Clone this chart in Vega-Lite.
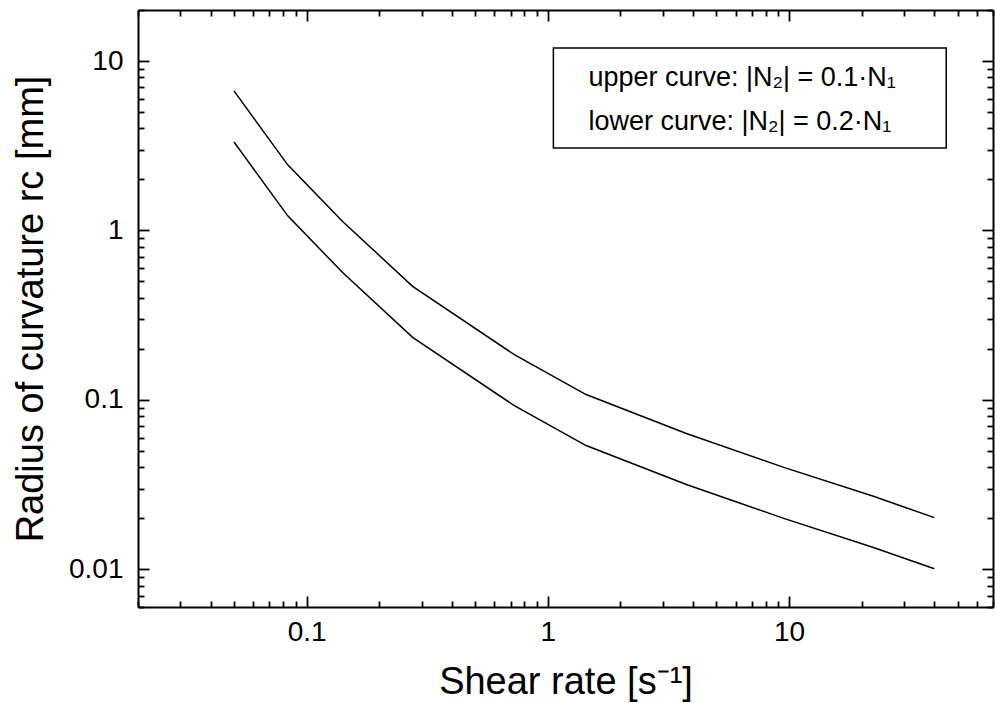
{
  "$schema": "https://vega.github.io/schema/vega-lite/v6.json",
  "width": 855,
  "height": 597,
  "autosize": {"type": "none"},
  "padding": {"left": 138, "top": 10, "right": 2, "bottom": 96},
  "background": "white",
  "config": {
    "font": "Liberation Sans",
    "view": {"stroke": null},
    "axis": {
      "grid": false,
      "domainColor": "black",
      "domainWidth": 2,
      "tickColor": "black",
      "tickWidth": 1.8,
      "labelColor": "black",
      "labelFontSize": 28,
      "labelFont": "Liberation Sans",
      "labelFlush": false,
      "labelOverlap": false,
      "titleColor": "black",
      "titleFont": "Liberation Sans",
      "titleFontSize": 38,
      "titleFontWeight": "normal"
    }
  },
  "datasets": {
    "curves": [
      {"curve": "upper", "shear_rate": 0.05, "radius": 6.66},
      {"curve": "upper", "shear_rate": 0.0835, "radius": 2.44},
      {"curve": "upper", "shear_rate": 0.141, "radius": 1.13},
      {"curve": "upper", "shear_rate": 0.275, "radius": 0.468},
      {"curve": "upper", "shear_rate": 0.726, "radius": 0.185},
      {"curve": "upper", "shear_rate": 1.44, "radius": 0.1076},
      {"curve": "upper", "shear_rate": 3.75, "radius": 0.0634},
      {"curve": "upper", "shear_rate": 9.5, "radius": 0.04},
      {"curve": "upper", "shear_rate": 22.2, "radius": 0.0271},
      {"curve": "upper", "shear_rate": 40, "radius": 0.0202},
      {"curve": "lower", "shear_rate": 0.05, "radius": 3.33},
      {"curve": "lower", "shear_rate": 0.0835, "radius": 1.22},
      {"curve": "lower", "shear_rate": 0.141, "radius": 0.565},
      {"curve": "lower", "shear_rate": 0.275, "radius": 0.234},
      {"curve": "lower", "shear_rate": 0.726, "radius": 0.0925},
      {"curve": "lower", "shear_rate": 1.44, "radius": 0.0538},
      {"curve": "lower", "shear_rate": 3.75, "radius": 0.0317},
      {"curve": "lower", "shear_rate": 9.5, "radius": 0.02},
      {"curve": "lower", "shear_rate": 22.2, "radius": 0.0135},
      {"curve": "lower", "shear_rate": 40, "radius": 0.0101}
    ]
  },
  "layer": [
    {
      "data": {"name": "curves"},
      "mark": {"type": "line", "color": "black", "strokeWidth": 1.5},
      "encoding": {
        "x": {
          "field": "shear_rate",
          "type": "quantitative",
          "scale": {"type": "log", "domain": [0.02, 70], "nice": false},
          "axis": {
            "orient": "bottom",
            "title": "Shear rate [s⁻¹]",
            "values": [0.02, 0.03, 0.04, 0.05, 0.06, 0.07, 0.08, 0.09, 0.1, 0.2, 0.3, 0.4, 0.5, 0.6, 0.7, 0.8, 0.9, 1, 2, 3, 4, 5, 6, 7, 8, 9, 10, 20, 30, 40, 50, 60, 70],
            "labelExpr": "(datum.value == 0.1 || datum.value == 1 || datum.value == 10) ? format(datum.value, '~g') : ''",
            "tickSize": {"condition": {"test": "datum.value == 0.1 || datum.value == 1 || datum.value == 10", "value": -11}, "value": -6},
            "labelPadding": 22,
            "titlePadding": 12
          }
        },
        "y": {
          "field": "radius",
          "type": "quantitative",
          "scale": {"type": "log", "domain": [0.006, 20], "nice": false},
          "axis": {
            "orient": "left",
            "title": "Radius of curvature rc [mm]",
            "values": [0.006, 0.007, 0.008, 0.009, 0.01, 0.02, 0.03, 0.04, 0.05, 0.06, 0.07, 0.08, 0.09, 0.1, 0.2, 0.3, 0.4, 0.5, 0.6, 0.7, 0.8, 0.9, 1, 2, 3, 4, 5, 6, 7, 8, 9, 10, 20],
            "labelExpr": "(datum.value == 0.01 || datum.value == 0.1 || datum.value == 1 || datum.value == 10) ? format(datum.value, '~g') : ''",
            "tickSize": {"condition": {"test": "datum.value == 0.01 || datum.value == 0.1 || datum.value == 1 || datum.value == 10", "value": -11}, "value": -6},
            "labelPadding": 26,
            "titlePadding": 18
          }
        },
        "detail": {"field": "curve"}
      }
    },
    {
      "data": {"values": [{}]},
      "mark": {"type": "rect", "fill": "white", "stroke": "black", "strokeWidth": 1.5},
      "encoding": {
        "x": {
          "datum": 1.054,
          "type": "quantitative",
          "axis": {
            "orient": "top",
            "title": null,
            "labels": false,
            "values": [0.02, 0.03, 0.04, 0.05, 0.06, 0.07, 0.08, 0.09, 0.1, 0.2, 0.3, 0.4, 0.5, 0.6, 0.7, 0.8, 0.9, 1, 2, 3, 4, 5, 6, 7, 8, 9, 10, 20, 30, 40, 50, 60, 70],
            "tickSize": {"condition": {"test": "datum.value == 0.1 || datum.value == 1 || datum.value == 10", "value": -11}, "value": -6}
          }
        },
        "x2": {"datum": 44.8},
        "y": {
          "datum": 11.93,
          "type": "quantitative",
          "axis": {
            "orient": "right",
            "title": null,
            "labels": false,
            "values": [0.006, 0.007, 0.008, 0.009, 0.01, 0.02, 0.03, 0.04, 0.05, 0.06, 0.07, 0.08, 0.09, 0.1, 0.2, 0.3, 0.4, 0.5, 0.6, 0.7, 0.8, 0.9, 1, 2, 3, 4, 5, 6, 7, 8, 9, 10, 20],
            "tickSize": {"condition": {"test": "datum.value == 0.01 || datum.value == 0.1 || datum.value == 1 || datum.value == 10", "value": -11}, "value": -6}
          }
        },
        "y2": {"datum": 3.07}
      }
    },
    {
      "data": {"values": [{}]},
      "mark": {"type": "text", "text": "upper curve: |N₂| = 0.1·N₁", "align": "left", "baseline": "middle", "fontSize": 27, "font": "Liberation Sans", "color": "black"},
      "encoding": {
        "x": {"datum": 1.472, "type": "quantitative", "axis": null},
        "y": {"datum": 7.94, "type": "quantitative", "axis": null}
      }
    },
    {
      "data": {"values": [{}]},
      "mark": {"type": "text", "text": "lower curve:  |N₂| = 0.2·N₁", "align": "left", "baseline": "middle", "fontSize": 27, "font": "Liberation Sans", "color": "black"},
      "encoding": {
        "x": {"datum": 1.472, "type": "quantitative", "axis": null},
        "y": {"datum": 4.37, "type": "quantitative", "axis": null}
      }
    }
  ]
}
